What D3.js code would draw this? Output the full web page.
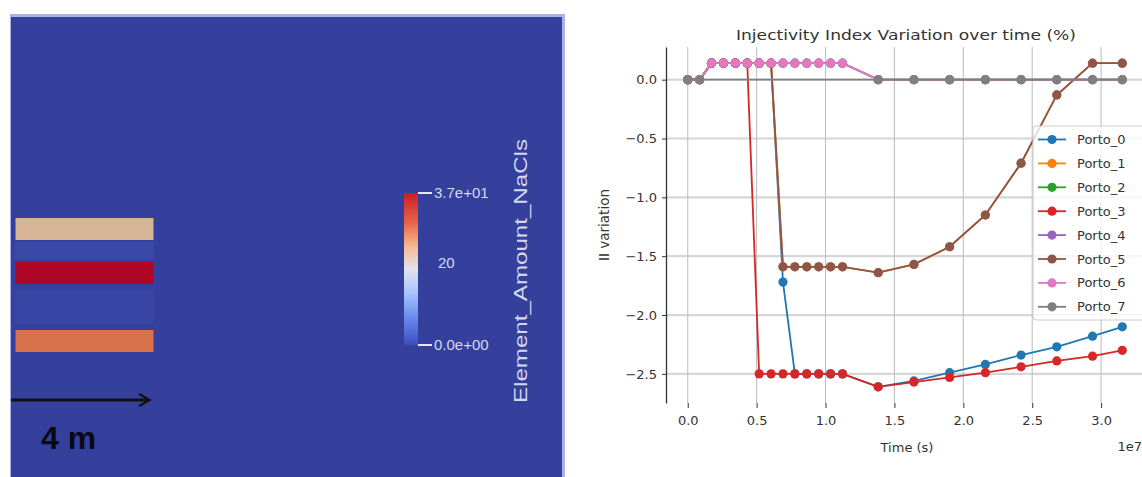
<!DOCTYPE html>
<html><head><meta charset="utf-8">
<script src="https://cdn.jsdelivr.net/npm/d3@7"></script>
<style>html,body{margin:0;padding:0;background:#fff;overflow:hidden}</style>
</head><body><svg id="c" width="1142" height="477"></svg>
<script>
// ---- data (time in units of 1e7 s) ----
const times = [0, 0.0864, 0.1728, 0.2592, 0.3456, 0.432, 0.5184, 0.6048, 0.6912, 0.7776, 0.864, 0.9504, 1.0368, 1.1232, 1.3824, 1.6416, 1.9008, 2.16, 2.4192, 2.6784, 2.9376, 3.1536];
const seriesNames = ["Porto_0","Porto_1","Porto_2","Porto_3","Porto_4","Porto_5","Porto_6","Porto_7"];
const seriesColors = ["#1f77b4","#ff7f0e","#2ca02c","#d62728","#9467bd","#8c564b","#e377c2","#7f7f7f"];
const porto0 = [0, 0, 0.14, 0.14, 0.14, 0.14, 0.14, 0.14, -1.72, -2.5, -2.5, -2.5, -2.5, -2.5, -2.61, -2.56, -2.49, -2.42, -2.34, -2.27, -2.18, -2.10];
const porto1 = [0, 0, 0.14, 0.14, 0.14, 0.14, 0.14, 0.14, -1.59, -1.59, -1.59, -1.59, -1.59, -1.59, -1.64, -1.57, -1.42, -1.15, -0.71, -0.13, 0.14, 0.14];
const porto2 = [0, 0, 0.14, 0.14, 0.14, 0.14, 0.14, 0.14, 0.14, 0.14, 0.14, 0.14, 0.14, 0.14, 0, 0, 0, 0, 0, 0, 0, 0];
const porto3 = [0, 0, 0.14, 0.14, 0.14, 0.14, -2.5, -2.5, -2.5, -2.5, -2.5, -2.5, -2.5, -2.5, -2.61, -2.57, -2.53, -2.49, -2.44, -2.39, -2.35, -2.30];
const porto4 = [0, 0, 0.14, 0.14, 0.14, 0.14, 0.14, 0.14, 0.14, 0.14, 0.14, 0.14, 0.14, 0.14, 0, 0, 0, 0, 0, 0, 0, 0];
const porto5 = [0, 0, 0.14, 0.14, 0.14, 0.14, 0.14, 0.14, -1.59, -1.59, -1.59, -1.59, -1.59, -1.59, -1.64, -1.57, -1.42, -1.15, -0.71, -0.13, 0.14, 0.14];
const porto6 = [0, 0, 0.14, 0.14, 0.14, 0.14, 0.14, 0.14, 0.14, 0.14, 0.14, 0.14, 0.14, 0.14, 0, 0, 0, 0, 0, 0, 0, 0];
const porto7 = [0, 0, null, null, null, null, null, null, null, null, null, null, null, null, 0, 0, 0, 0, 0, 0, 0, 0];
const xTicks = [0, 0.5, 1.0, 1.5, 2.0, 2.5, 3.0];
const yTicks = [0, -0.5, -1.0, -1.5, -2.0, -2.5];
const chartTitle = "Injectivity Index Variation over time (%)";
const xLabel = "Time (s)";
const yLabel = "II variation";
const xOffsetText = "1e7";
// left image (simulation snapshot)
const cbValues = [0, 20, 37];
const cbLabels = ["0.0e+00", "20", "3.7e+01"];
const cbTitle = "Element_Amount_NaCls";
const scaleLabel = "4 m";
const layerValues = [27, 37, 31];   // approximate colour value of each layer band

const series = [porto0, porto1, porto2, porto3, porto4, porto5, porto6, porto7];

const svg = d3.select("#c");
svg.append("rect").attr("width", 1142).attr("height", 477).attr("fill", "#fff");

// ================= LEFT PANEL =================
const L = svg.append("g");
const bgBlue = "#34409b";
L.append("rect").attr("x", 10).attr("y", 14).attr("width", 555).attr("height", 470).attr("fill", "#aab1e3");
L.append("rect").attr("x", 11).attr("y", 17).attr("width", 551).attr("height", 465).attr("fill", bgBlue);

const cmap = d3.scaleLinear()
  .domain([0, 0.2, 0.35, 0.5, 0.65, 0.8, 1])
  .range(["#3b4cc0", "#6f92f3", "#aac7fd", "#e2e2ea", "#f6b98f", "#e8664a", "#c81e2a"]);

const bandRows = [{y0: 218, y1: 240}, {y0: 262, y1: 284}, {y0: 330, y1: 352}];
L.append("rect").attr("x", 15).attr("y", 242).attr("width", 139).attr("height", 18).attr("fill", "#3849a8");
L.append("rect").attr("x", 15).attr("y", 290).attr("width", 139).attr("height", 34).attr("fill", "#3746a4");
const layerFill = ["#d6b597", "#ae0626", "#d8724d"];
L.selectAll("rect.layer").data(layerValues).join("rect").attr("class", "layer")
  .attr("x", 15.5).attr("width", 138)
  .attr("y", (d, i) => bandRows[i].y0).attr("height", (d, i) => bandRows[i].y1 - bandRows[i].y0)
  .attr("fill", (d, i) => layerFill[i]);

// scale arrow
L.append("line").attr("x1", 11).attr("x2", 148).attr("y1", 400).attr("y2", 400)
  .attr("stroke", "#111").attr("stroke-width", 3);
L.append("path").attr("d", "M139,394 L150,400 L139,406").attr("fill", "none").attr("stroke", "#111").attr("stroke-width", 2);
L.append("text").attr("x", 41).attr("y", 449).attr("font-family", "Liberation Sans, Arial, sans-serif")
  .attr("font-weight", "bold").attr("font-size", 32).attr("fill", "#0a0a14").text(scaleLabel);

// colorbar
const cbScale = d3.scaleLinear().domain([0, 37]).range([345, 193]);
const defs = svg.append("defs");
const grad = defs.append("linearGradient").attr("id", "cbg").attr("x1", 0).attr("y1", 1).attr("x2", 0).attr("y2", 0);
d3.range(0, 1.0001, 0.05).forEach(t => grad.append("stop").attr("offset", t).attr("stop-color", cmap(t)));
L.append("rect").attr("x", 404).attr("y", cbScale(37)).attr("width", 14)
  .attr("height", cbScale(0) - cbScale(37)).attr("fill", "url(#cbg)");
cbValues.forEach((v, i) => {
  const yy = cbScale(v);
  if (i !== 1) L.append("line").attr("x1", 418).attr("x2", 432).attr("y1", yy).attr("y2", yy)
    .attr("stroke", "#e8e8f4").attr("stroke-width", 2);
  L.append("text").attr("x", i === 1 ? 438 : 434).attr("y", yy).attr("dy", "0.36em")
    .attr("font-family", "Liberation Sans, Arial, sans-serif").attr("font-size", 15)
    .attr("fill", "#d4d8f0").text(cbLabels[i]);
});
L.append("text").attr("transform", "translate(527,403) rotate(-90)")
  .attr("font-family", "Liberation Sans, Arial, sans-serif").attr("font-size", 18)
  .attr("fill", "#d4d8f0").attr("textLength", 264).attr("lengthAdjust", "spacingAndGlyphs").text(cbTitle);

// ================= RIGHT PANEL (chart) =================
const allVals = series.flat().filter(v => v != null);
const yMin = d3.min(allVals), yMax = d3.max(allVals), yR = yMax - yMin;
const xMin = d3.min(times), xMax = d3.max(times), xR = xMax - xMin;
const x = d3.scaleLinear().domain([xMin - 0.05 * xR, xMax + 0.05 * xR]).range([666, 1144]);
const y = d3.scaleLinear().domain([yMin - 0.05 * yR, yMax + 0.05 * yR]).range([403, 47]);

const C = svg.append("g").attr("font-family", "DejaVu Sans, sans-serif");
// grid
C.selectAll("line.hg").data(yTicks).join("line").attr("class", "hg")
  .attr("x1", 666).attr("x2", 1144).attr("y1", d => y(d)).attr("y2", d => y(d))
  .attr("stroke", "#d6d6d6").attr("stroke-width", 2.2);
C.selectAll("line.vg").data(xTicks).join("line").attr("class", "vg")
  .attr("y1", 47).attr("y2", 403).attr("x1", d => x(d)).attr("x2", d => x(d))
  .attr("stroke", "#c0c0c0").attr("stroke-width", 1.1);

// axes
const yAxis = C.append("g").attr("transform", "translate(666,0)")
  .call(d3.axisLeft(y).tickValues(yTicks).tickSize(4).tickSizeOuter(0).tickPadding(5).tickFormat(d3.format(".1f")));
yAxis.select(".domain").attr("stroke", "#333").attr("stroke-width", 1.3);
yAxis.selectAll(".tick line").attr("stroke", "#333");
yAxis.selectAll("text").attr("font-size", 13).attr("fill", "#333").attr("font-family", "DejaVu Sans, sans-serif");

const xAxis = C.append("g").attr("transform", "translate(0,403)")
  .call(d3.axisBottom(x).tickValues(xTicks).tickSize(5).tickPadding(8).tickFormat(d3.format(".1f")));
xAxis.select(".domain").remove();
xAxis.selectAll(".tick line").attr("stroke", "#333");
xAxis.selectAll("text").attr("font-size", 13).attr("fill", "#333").attr("font-family", "DejaVu Sans, sans-serif");

C.append("text").attr("x", 1142).attr("y", 451).attr("text-anchor", "end").attr("font-size", 13).attr("fill", "#333").text(xOffsetText);
C.append("text").attr("x", 907).attr("y", 452).attr("text-anchor", "middle").attr("font-size", 13).attr("fill", "#333").text(xLabel);
C.append("text").attr("transform", "translate(609,225) rotate(-90)").attr("text-anchor", "middle")
  .attr("font-size", 13.5).attr("fill", "#333").text(yLabel);
C.append("text").attr("x", 906).attr("y", 40).attr("text-anchor", "middle").attr("font-size", 14)
  .attr("fill", "#333").attr("textLength", 340).attr("lengthAdjust", "spacingAndGlyphs").text(chartTitle);

// data
const line = d3.line().x(d => x(d[0])).y(d => y(d[1]));
series.forEach((vals, si) => {
  const pts = times.map((t, i) => [t, vals[i]]).filter(p => p[1] != null);
  const g = C.append("g");
  g.append("path").attr("d", line(pts)).attr("fill", "none")
    .attr("stroke", seriesColors[si]).attr("stroke-width", 1.8);
  g.selectAll("circle").data(pts).join("circle")
    .attr("cx", d => x(d[0])).attr("cy", d => y(d[1])).attr("r", 4.6)
    .attr("fill", seriesColors[si]);
});

// legend
const lg = C.append("g");
lg.append("rect").attr("x", 1033).attr("y", 126).attr("width", 120).attr("height", 194).attr("rx", 3)
  .attr("fill", "#fff").attr("fill-opacity", 0.8).attr("stroke", "#cccccc");
seriesNames.forEach((n, i) => {
  const yy = 139.5 + i * 23.9;
  lg.append("line").attr("x1", 1038).attr("x2", 1066).attr("y1", yy).attr("y2", yy)
    .attr("stroke", seriesColors[i]).attr("stroke-width", 1.8);
  lg.append("circle").attr("cx", 1052).attr("cy", yy).attr("r", 4.6).attr("fill", seriesColors[i]);
  lg.append("text").attr("x", 1077).attr("y", yy).attr("dy", "0.35em").attr("font-size", 13)
    .attr("fill", "#333").text(n);
});
</script></body></html>
